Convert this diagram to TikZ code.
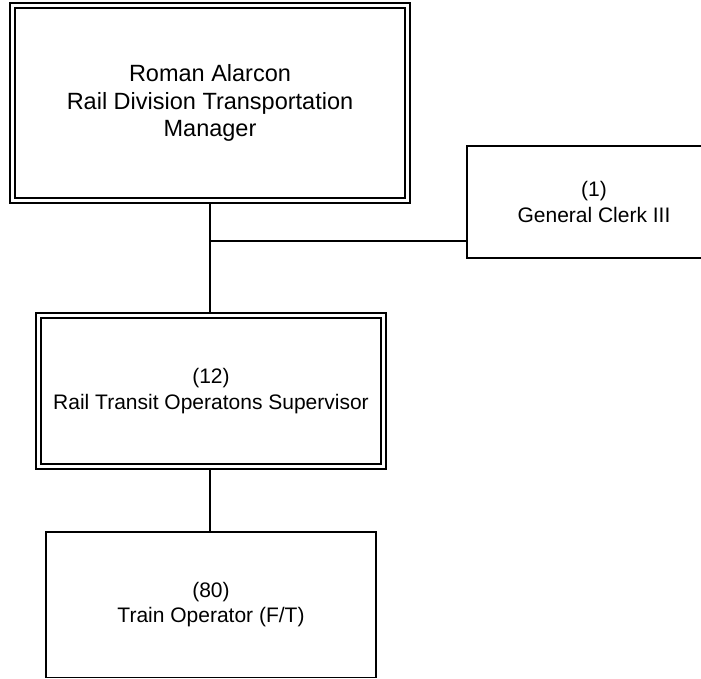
\documentclass[tikz,border=0pt]{standalone}
\usepackage{fontspec}
\setmainfont{Liberation Sans}
\begin{document}
\begin{tikzpicture}[x=1pt,y=-1pt,
  dblbox/.style={draw, line width=1.3pt, double, double distance=3.7pt, inner sep=0pt, outer sep=3.15pt, align=center},
  sglbox/.style={draw, line width=1.4pt, inner sep=0pt, align=center},
  conn/.style={line width=1.4pt},
  bigtext/.style={font=\fontsize{23.5}{27.5}\selectfont},
  smalltext/.style={font=\fontsize{21}{25.5}\selectfont}]
\useasboundingbox (0,0) rectangle (701,678);
\clip (0,0) rectangle (701,678);
\fill[white] (0,0) rectangle (701,678);
\node[dblbox, bigtext, minimum width=395pt, minimum height=195pt] (mgr) at (210,103) {Roman Alarcon\\Rail Division Transportation\\Manager};
\node[sglbox, smalltext, minimum width=254pt, minimum height=112pt] (clerk) at (594,202) {(1)\\General Clerk III};
\node[dblbox, smalltext, minimum width=345pt, minimum height=151pt] (sup) at (211,391) {(12)\\Rail Transit Operatons Supervisor};
\node[sglbox, smalltext, minimum width=330pt, minimum height=145.5pt] (op) at (211,604.75) {(80)\\Train Operator (F/T)};
\coordinate (j) at (210,241);
\draw[conn] (mgr.south) -- (mgr.south |- sup.north);
\draw[conn] (j) -- (j -| clerk.west);
\draw[conn] (sup.south -| mgr.south) -- (op.north -| mgr.south);
\end{tikzpicture}
\end{document}
